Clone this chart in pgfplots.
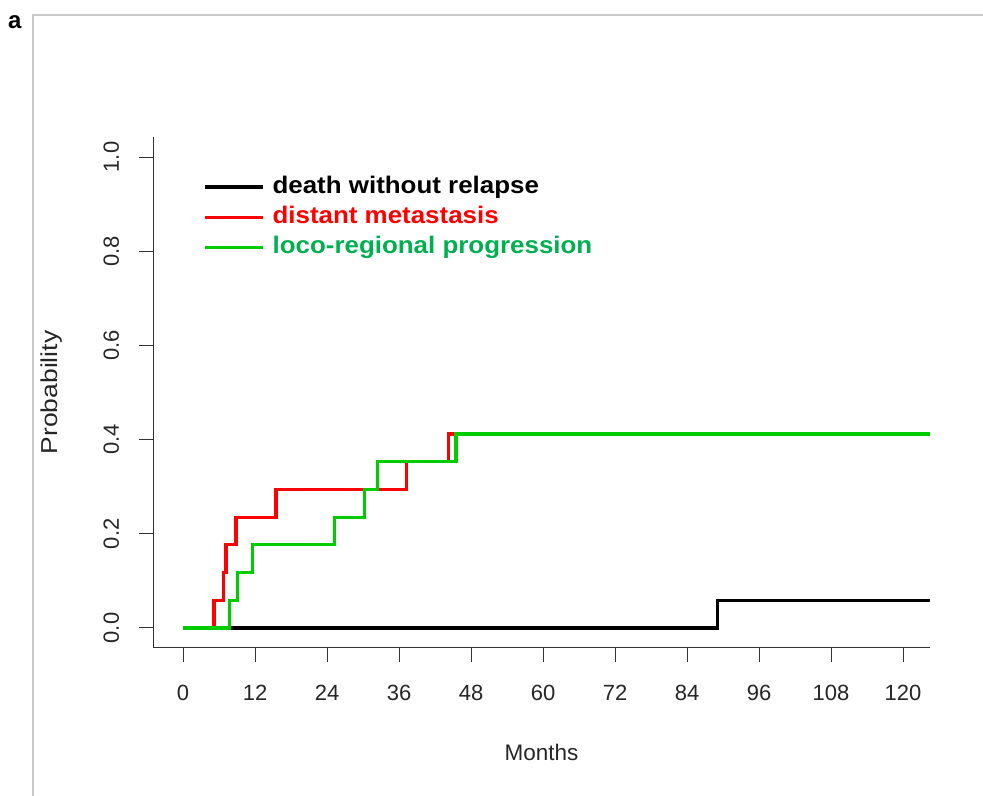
\documentclass[border=0pt]{standalone}
\usepackage{fontspec}
\setmainfont{Liberation Sans}
\newfontfamily\legfont[FakeStretch=1.08]{Liberation Sans}
\newfontfamily\ylabfont[FakeStretch=1.15]{Liberation Sans}
\usepackage{pgfplots}
\pgfplotsset{compat=1.18}
\definecolor{rgreen}{HTML}{00CD00}
\definecolor{tgreen}{HTML}{00B050}
\definecolor{framegray}{HTML}{C8C8C8}
\definecolor{axgray}{HTML}{333333}
\begin{document}
\begin{tikzpicture}[x=1bp,y=1bp]
\useasboundingbox (0,0) rectangle (983,796);
\draw[framegray, line width=1.5bp] (33,0) -- (33,781) -- (983,781);
\node[anchor=base west, inner sep=0pt, font=\fontsize{24bp}{28bp}\selectfont\bfseries] at (8,767) {a};
\begin{axis}[
  at={(153bp,148bp)}, anchor=south west,
  scale only axis, width=777bp, height=511bp,
  xmin=-5, xmax=124.5, ymin=-0.0425, ymax=1.0425,
  axis x line*=bottom, axis y line*=left,
  axis line style={-, axgray, line width=1bp},
  tick align=outside, major tick length=14bp,
  tick style={axgray, line width=1bp},
  xtick={0,12,24,36,48,60,72,84,96,108,120},
  xticklabels={0,12,24,36,48,60,72,84,96,108,120},
  ytick={0,0.2,0.4,0.6,0.8,1},
  yticklabels={0.0,0.2,0.4,0.6,0.8,1.0},
  /pgf/number format/assume math mode=true,
  ticklabel style={font=\fontsize{22bp}{26bp}\selectfont, text=black!85},
  xticklabel style={anchor=north, inner sep=0pt, yshift=-23bp},
  yticklabel style={rotate=90, anchor=south, inner sep=0pt, yshift=19.7bp},
  xlabel={Months}, ylabel={Probability},
  xlabel style={at={(rel axis cs:0.5,0)}, anchor=center, inner sep=0pt, yshift=-104bp, font=\fontsize{22.5bp}{26bp}\selectfont, text=black!85},
  ylabel style={at={(rel axis cs:0,0.5)}, anchor=center, inner sep=0pt, yshift=101bp, font=\ylabfont\fontsize{23bp}{26bp}\selectfont, text=black!85},
  legend style={at={(axis cs:3.33,0.962)}, anchor=north west, draw=none, fill=none,
    inner sep=0pt, row sep=6bp, column sep=8bp,
    font=\legfont\fontsize{24bp}{28bp}\selectfont\bfseries,
    nodes={inner sep=0pt, text height=18bp, text depth=6bp}},
  legend cell align=left,
  legend image code/.code={\draw[#1] (0bp,0bp) -- (58bp,0bp);},
]
\addplot[const plot, black, line width=3.4bp] coordinates {
  (0,0) (89.05,0.0588) (124.5,0.0588)};
\addlegendentry{\textcolor{black}{death without relapse}}
\addplot[const plot, red, line width=3.1bp] coordinates {
  (0,0) (5.17,0.0588) (6.7,0.1176) (7.17,0.1765) (8.83,0.2353)
  (15.5,0.2941) (37.3,0.3529) (44.2,0.4118) (124.5,0.4118)};
\addlegendentry{\textcolor{red}{distant metastasis}}
\addplot[const plot, rgreen, line width=3.1bp] coordinates {
  (0,0) (7.72,0.0588) (9.06,0.1176) (11.6,0.1765) (25.2,0.2353)
  (30.3,0.2941) (32.4,0.3529) (45.5,0.4118) (124.5,0.4118)};
\addlegendentry{\textcolor{tgreen}{loco-regional progression}}
\end{axis}
\end{tikzpicture}
\end{document}
